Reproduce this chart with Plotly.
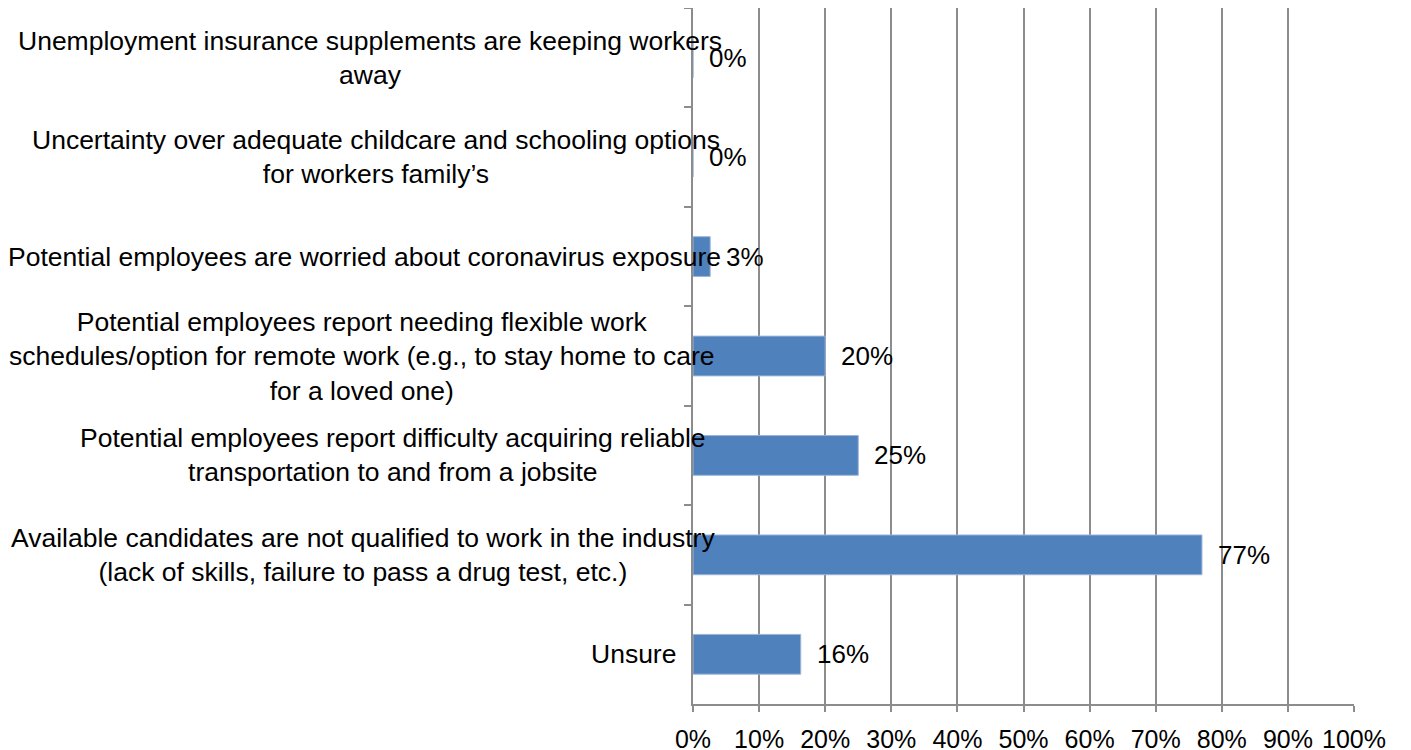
import plotly.graph_objects as go

categories = [
    "Unemployment insurance supplements are keeping workers<br>away",
    "Uncertainty over adequate childcare and schooling options<br>for workers family\u2019s",
    "Potential employees are worried about coronavirus exposure",
    "Potential employees report needing flexible work<br>schedules/option for remote work (e.g., to stay home to care<br>for a loved one)",
    "Potential employees report difficulty acquiring reliable<br>transportation to and from a jobsite",
    "Available candidates are not qualified to work in the industry<br>(lack of skills, failure to pass a drug test, etc.)",
    "Unsure",
]
values = [0, 0, 2.6, 20, 25, 77, 16.3]
value_labels = ["0%", "0%", "3%", "20%", "25%", "77%", "16%"]
x_ticks = list(range(0, 101, 10))
x_tick_labels = [f"{t}%" for t in x_ticks]

# horizontal pixel offsets (from the y axis) of the centres of category labels
label_centre_shift = [-323, -317, -329, -331, -300, -330, -60]

FONT = "Liberation Sans, Arial, sans-serif"
GRID = "#8c8c8c"

fig = go.Figure()
fig.add_trace(go.Bar(
    x=values,
    y=categories,
    orientation="h",
    width=0.4,
    marker=dict(color="#4F81BD", line=dict(color="#9DB5D9", width=1)),
    hoverinfo="skip",
))

annotations = []
for cat, v, lab in zip(categories, values, value_labels):
    annotations.append(dict(
        x=v, y=cat, xref="x", yref="y", text=lab, showarrow=False,
        xanchor="left", yanchor="middle", xshift=14, yshift=0,
        font=dict(family=FONT, size=26, color="#000000"),
    ))
for cat, sh in zip(categories, label_centre_shift):
    annotations.append(dict(
        x=0, y=cat, xref="paper", yref="y", text=cat, showarrow=False,
        xanchor="center", yanchor="middle", align="center", xshift=sh,
        font=dict(family=FONT, size=26.5, color="#000000"),
    ))

fig.update_layout(
    width=1411, height=750,
    margin=dict(l=685, r=65, t=0, b=54),
    paper_bgcolor="white", plot_bgcolor="white",
    showlegend=False,
    annotations=annotations,
    font=dict(family=FONT, size=25, color="#000000"),
    xaxis=dict(
        range=[0, 100], tickvals=x_ticks, ticktext=x_tick_labels,
        showgrid=True, gridcolor=GRID, gridwidth=1.5,
        showline=True, linecolor=GRID, linewidth=1.5,
        ticks="outside", ticklen=6, tickcolor=GRID, tickwidth=1.5,
        ticklabelstandoff=6, zeroline=False,
        tickfont=dict(family=FONT, size=25, color="#000000"),
    ),
    yaxis=dict(
        categoryorder="array", categoryarray=categories, autorange="reversed",
        showticklabels=False, showgrid=False,
        showline=True, linecolor=GRID, linewidth=1.5,
        ticks="outside", ticklen=7, tickcolor=GRID, tickwidth=1.5,
        tickson="boundaries",
    ),
)

fig.write_html("out.html")
